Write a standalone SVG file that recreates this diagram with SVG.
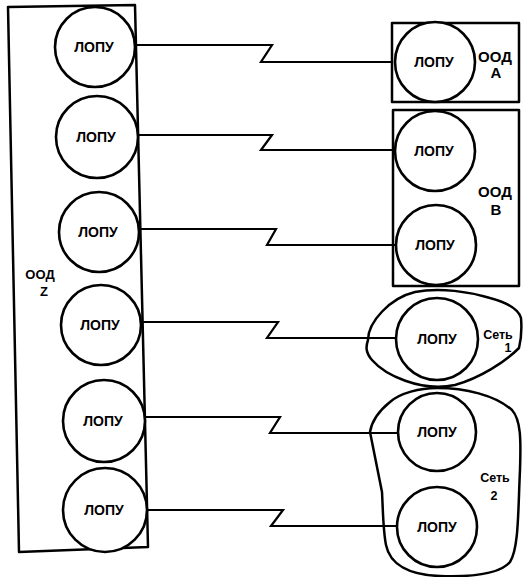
<svg xmlns="http://www.w3.org/2000/svg" width="523" height="577" viewBox="0 0 523 577">
<style>
.sh{fill:none;stroke:#000;stroke-width:2.5;stroke-linejoin:round}
.c{fill:#fff;stroke:#000;stroke-width:2.6}
.ln{fill:none;stroke:#000;stroke-width:2.2;stroke-linejoin:miter}
text{font-family:"Liberation Sans",Arial,sans-serif;font-weight:bold;fill:#000;text-anchor:middle}
.l{font-size:14px}
.o{font-size:13px}
.ob{font-size:15px}
.s{font-size:12.5px}
</style>
<rect width="523" height="577" fill="#fff"/>
<g id="ood-z">
<polygon class="sh" points="8,7 135,5 148,547 19,552"/>
<text class="o" x="40" y="279">ООД</text>
<text class="o" x="44" y="296">Z</text>
</g>
<g id="ood-a"><rect class="sh" x="392" y="23" width="127" height="79"/>
<text class="ob" x="495" y="62">ООД</text><text class="ob" x="496" y="78">А</text></g>
<g id="ood-b"><rect class="sh" x="393" y="110" width="126" height="176"/>
<text class="ob" x="495" y="197">ООД</text><text class="ob" x="496" y="215">В</text></g>
<g id="set-1"><path class="sh" d="M368,340 C368,322 390,298 415,292 C440,287 470,292 490,298 C505,302 518,308 521,318 C522,330 521,340 519,348 C505,362 480,378 455,385 C420,392 385,375 372,360 C365,352 366,346 368,340 Z"/>
<text class="s" x="498" y="339">Сеть</text><text class="s" x="508" y="352">1</text></g>
<g id="set-2"><path class="sh" d="M437,388 C420,388 400,393 390,402 C380,410 372,420 370,432 L382,492 C383,510 383,530 386,545 C390,565 410,575 440,576 C470,577 500,574 510,562 C519,548 518,510 520,470 C521,440 521,420 512,410 C495,395 465,388 437,388 Z"/>
<text class="s" x="495" y="482">Сеть</text><text class="s" x="494" y="500">2</text></g>
<g id="connectors">
<polyline class="ln" points="136,45 272,45 261,62 393,62"/>
<polyline class="ln" points="138,135 272,135 261,150 393,150"/>
<polyline class="ln" points="139,229 276,229 267,245 395,245"/>
<polyline class="ln" points="141,322 278,322 267,338 397,338"/>
<polyline class="ln" points="145,417 280,417 270,433 399,433"/>
<polyline class="ln" points="147,510 283,510 271,526 397,526"/>
</g>
<g id="lopu-z1"><circle class="c" cx="95" cy="47" r="40"/><text class="l" x="94" y="52">ЛОПУ</text></g>
<g id="lopu-z2"><circle class="c" cx="97" cy="137" r="41"/><text class="l" x="96" y="142">ЛОПУ</text></g>
<g id="lopu-z3"><circle class="c" cx="99" cy="232" r="40"/><text class="l" x="98" y="237">ЛОПУ</text></g>
<g id="lopu-z4"><circle class="c" cx="101" cy="325" r="40"/><text class="l" x="100" y="330">ЛОПУ</text></g>
<g id="lopu-z5"><circle class="c" cx="104" cy="421" r="41"/><text class="l" x="103" y="426">ЛОПУ</text></g>
<g id="lopu-z6"><circle class="c" cx="105" cy="510" r="42"/><text class="l" x="104" y="515">ЛОПУ</text></g>
<g id="lopu-a"><circle class="c" cx="435" cy="62" r="40"/><text class="l" x="434" y="67">ЛОПУ</text></g>
<g id="lopu-b1"><circle class="c" cx="435" cy="151" r="40"/><text class="l" x="434" y="156">ЛОПУ</text></g>
<g id="lopu-b2"><circle class="c" cx="436" cy="245" r="40"/><text class="l" x="435" y="250">ЛОПУ</text></g>
<g id="lopu-s1"><circle class="c" cx="437" cy="339" r="41"/><text class="l" x="437" y="344">ЛОПУ</text></g>
<g id="lopu-s2a"><circle class="c" cx="437" cy="432" r="39"/><text class="l" x="437" y="437">ЛОПУ</text></g>
<g id="lopu-s2b"><circle class="c" cx="437" cy="527" r="40"/><text class="l" x="437" y="532">ЛОПУ</text></g>
</svg>
